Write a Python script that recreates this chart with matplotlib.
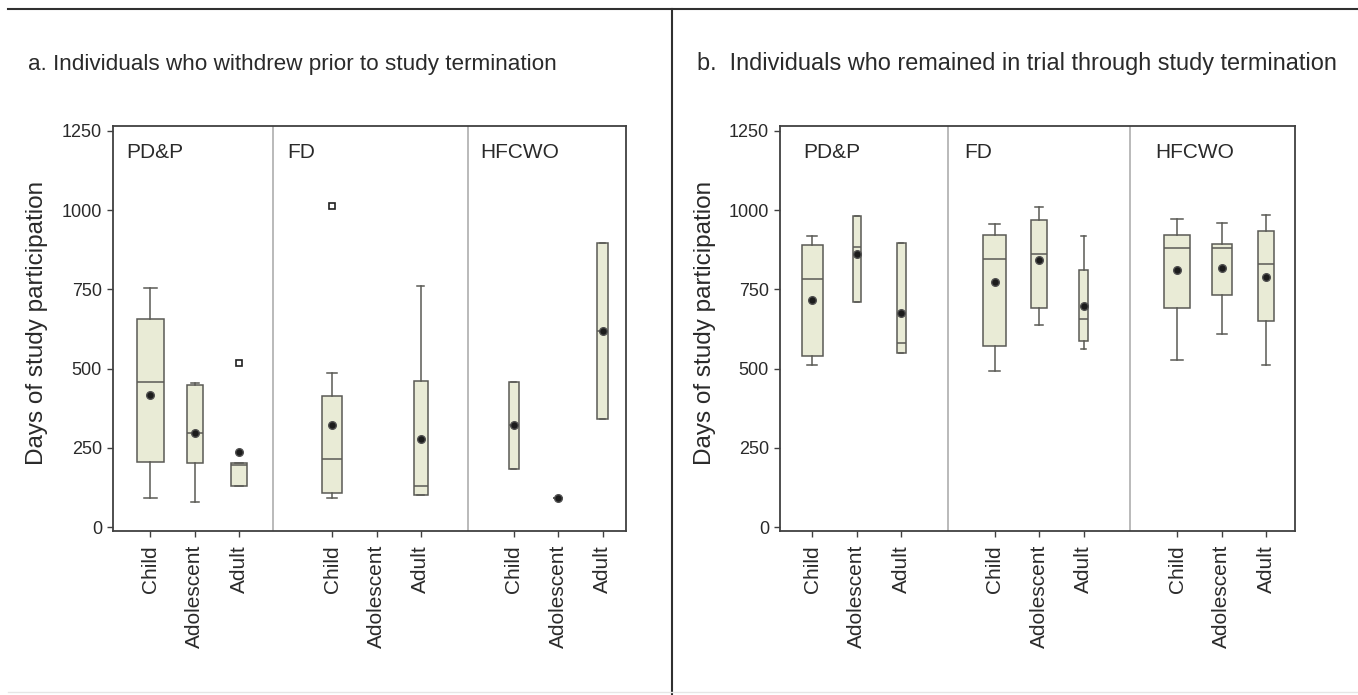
import matplotlib
matplotlib.use("Agg")
import matplotlib.pyplot as plt
from matplotlib.lines import Line2D

plt.rcParams['font.family'] = ['Liberation Sans', 'DejaVu Sans']

groups = ["PD&P", "FD", "HFCWO"]
ages = ["Child", "Adolescent", "Adult"]
titles = ["a. Individuals who withdrew prior to study termination",
          "b.  Individuals who remained in trial through study termination"]
ylabel = "Days of study participation"
yticks = [0, 250, 500, 750, 1000, 1250]

# Panel a (withdrew): order PD&P(Child, Adol, Adult), FD(...), HFCWO(...)
# None marks an empty category
a_whislo = [91, 81, 131, 91, None, 100, 184, 91, 342]
a_q1     = [207, 202, 131, 109, None, 100, 184, 91, 342]
a_med    = [457, 296, 195, 215, None, 131, 321, 91, 620]
a_q3     = [656, 449, 202, 414, None, 462, 457, 91, 897]
a_whishi = [753, 454, 202, 485, None, 762, 457, 91, 897]
a_mean   = [416, 296, 236, 322, None, 278, 321, 91, 620]
a_fliers = [[], [], [519], [1013], [], [], [], [], []]

# Panel b (remained)
b_whislo = [511, 711, 548, 491, 638, 561, 527, 608, 512]
b_q1     = [541, 711, 548, 572, 690, 586, 690, 731, 651]
b_med    = [784, 885, 582, 846, 861, 658, 881, 881, 829]
b_q3     = [890, 982, 897, 921, 969, 811, 921, 894, 934]
b_whishi = [918, 982, 897, 956, 1009, 918, 973, 959, 985]
b_mean   = [717, 860, 675, 772, 842, 699, 812, 817, 790]
b_fliers = [[], [], [], [], [], [], [], [], []]

# ---- layout / style (not data) ----
W, H = 1358, 695
fig = plt.figure(figsize=(W / 100, H / 100), dpi=100)

group_step = 4.1
box_widths = {
    "a": [0.59, 0.36, 0.36, 0.45, 0.3, 0.32, 0.23, 0.22, 0.25],
    "b": [0.47, 0.18, 0.20, 0.52, 0.36, 0.22, 0.58, 0.45, 0.36],
}
panel_cfg = {
    "a": dict(rect=[113 / W, 1 - 531 / H, 513 / W, 405 / H], xlim=(-0.846, 10.73),
              seps=[2.77, 7.17], labx=[-0.553, 3.08, 7.44], ylabx=37, titlex=28,
              titlesize=16.2),
    "b": dict(rect=[780 / W, 1 - 531 / H, 515 / W, 405 / H], xlim=(-0.72, 10.85),
              seps=[3.05, 7.15], labx=[-0.2, 3.42, 7.71], ylabx=705, titlex=697,
              titlesize=16.9),
}

box_face = "#e9ebd6"
edge = "#5a5a55"
frame = "#404040"
sep_color = "#b4b4b4"
txt = "#2a2a2a"


def build_stats(whislo, q1, med, q3, whishi, mean, fliers):
    stats, pos, idx = [], [], []
    for i in range(len(med)):
        if med[i] is None:
            continue
        stats.append(dict(whislo=whislo[i], q1=q1[i], med=med[i], q3=q3[i],
                          whishi=whishi[i], mean=mean[i], fliers=fliers[i]))
        pos.append((i // 3) * group_step + (i % 3))
        idx.append(i)
    return stats, pos, idx


data = {
    "a": (a_whislo, a_q1, a_med, a_q3, a_whishi, a_mean, a_fliers),
    "b": (b_whislo, b_q1, b_med, b_q3, b_whishi, b_mean, b_fliers),
}

for key, title in zip(["a", "b"], titles):
    cfg = panel_cfg[key]
    ax = fig.add_axes(cfg["rect"])
    stats, pos, idx = build_stats(*data[key])
    widths = [box_widths[key][i] for i in idx]
    ax.bxp(stats, positions=pos, widths=widths, capwidths=[w * 0.5 for w in widths],
           showmeans=True, patch_artist=True, manage_ticks=False,
           boxprops=dict(facecolor=box_face, edgecolor=edge, linewidth=1.1),
           medianprops=dict(color=edge, linewidth=1.1),
           whiskerprops=dict(color=edge, linewidth=1.1),
           capprops=dict(color=edge, linewidth=1.1),
           meanprops=dict(marker="o", markerfacecolor="#1c1c1c",
                          markeredgecolor="#505050", markersize=5.5),
           flierprops=dict(marker="s", markerfacecolor="white",
                           markeredgecolor="#202020", markersize=5, markeredgewidth=1.2))
    ax.set_xlim(*cfg["xlim"])
    ax.set_ylim(-12, 1265)
    for s in cfg["seps"]:
        ax.axvline(s, color=sep_color, linewidth=1.3, zorder=0)
    allpos = [g * group_step + c for g in range(3) for c in range(3)]
    ax.set_xticks(allpos)
    ax.set_xticklabels(ages * 3, rotation=90, fontsize=15, color=txt)
    ax.set_yticks(yticks)
    ax.set_yticklabels([str(v) for v in yticks], fontsize=13, color=txt)
    ax.tick_params(axis="both", direction="out", length=4, width=1, color=frame)
    ax.tick_params(axis="x", pad=6)
    ax.tick_params(axis="y", pad=4)
    for sp in ax.spines.values():
        sp.set_color(frame)
        sp.set_linewidth(1.3)
    for gx, g in zip(cfg["labx"], groups):
        ax.text(gx, 0.958, g, transform=ax.get_xaxis_transform(), fontsize=15,
                va="top", ha="left", color=txt)
    fig.text(cfg["ylabx"] / W, 1 - 323 / H, ylabel, rotation=90, fontsize=17.5,
             ha="center", va="center", color=txt)
    fig.text(cfg["titlex"] / W, 1 - 70 / H, title, fontsize=cfg["titlesize"], ha="left",
             va="baseline", color=txt)

# figure frame lines
fig.add_artist(Line2D([8 / W, 1], [1 - 9 / H, 1 - 9 / H], color="#303030", linewidth=1.5))
fig.add_artist(Line2D([672 / W, 672 / W], [0, 1 - 9 / H], color="#303030", linewidth=1.5))
fig.add_artist(Line2D([8 / W, 1], [1 - 692 / H, 1 - 692 / H], color="#e6e6e6", linewidth=1.0))

fig.savefig("out.png", dpi=100)
